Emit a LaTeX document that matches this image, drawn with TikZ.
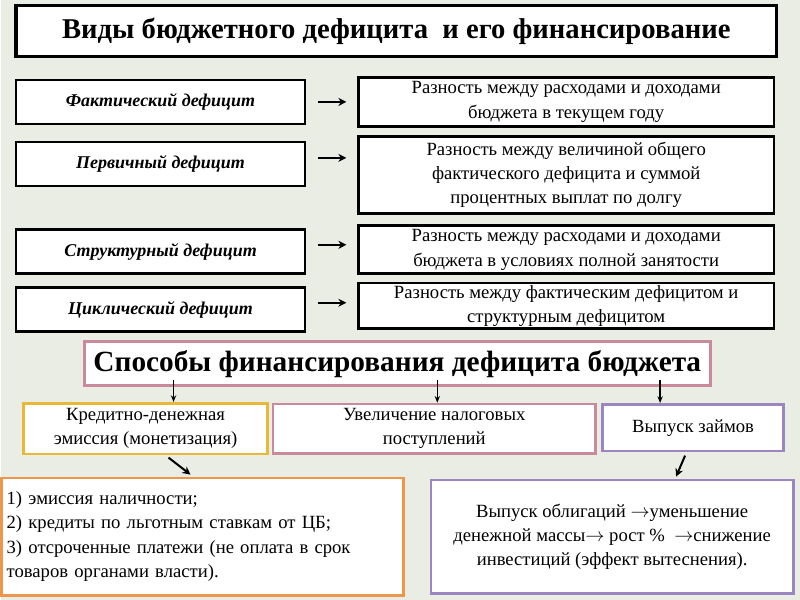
\documentclass[tikz,border=0pt]{standalone}
\usepackage{fontspec}
\setmainfont{Liberation Serif}
\usetikzlibrary{arrows.meta,positioning}
\definecolor{bgcol}{HTML}{E9EDE4}
\definecolor{pinkline}{HTML}{C98A9C}
\definecolor{goldline}{HTML}{E8B838}
\definecolor{purpline}{HTML}{9B86C0}
\definecolor{orangeline}{HTML}{F0964A}
\newcommand{\sz}[1]{\fontsize{#1}{1.3\dimexpr#1pt\relax}\selectfont}
\begin{document}
\begin{tikzpicture}[x=0.75pt,y=-0.75pt,
    every node/.style={rectangle,fill=white,inner sep=1pt,align=center},
    kind/.style={draw=black,line width=2pt,minimum width=217pt,minimum height=33pt,font=\sz{13.5}\bfseries\itshape},
    about/.style={draw=black,line width=2pt,minimum width=312pt,font=\sz{14}},
    way/.style={line width=2pt,font=\sz{14}},
    pointer/.style={-{Stealth[length=6pt,width=6pt]},line width=1.5pt},
    down/.style={-{Stealth[length=5pt,width=4pt]},line width=1pt}
  ]
  \fill[bgcol] (0,0) rectangle (800,600);
  \node [draw=black,line width=2.5pt,minimum width=571pt,minimum height=38pt,font=\sz{21.5}\bfseries] (title) at (396,31) {Виды бюджетного дефицита\ \ и его финансирование};
  % виды дефицита
  \node [kind] (fact) at (160,102) {Фактический дефицит};
  \node [kind] (prim) at (160,164) {Первичный дефицит};
  \node [kind] (struct) at (160,252) {Структурный дефицит};
  \node [kind] (cycl) at (160,310) {Циклический дефицит};
  \node [about,minimum height=37pt] (factd) at (566,102) {Разность между расходами и доходами\\бюджета в текущем году};
  \node [about,minimum height=58pt] (primd) at (566,175) {Разность между величиной общего\\фактического дефицита и суммой\\процентных выплат по долгу};
  \node [about,minimum height=36pt] (structd) at (566,250) {Разность между расходами и доходами\\бюджета в условиях полной занятости};
  \node [about,minimum height=34pt] (cycld) at (566,306) {Разность между фактическим дефицитом и\\структурным дефицитом};
  \coordinate (a1) at (318,102); \coordinate (b1) at (346,102);
  \coordinate (a2) at (318,158); \coordinate (b2) at (346,158);
  \coordinate (a3) at (318,245); \coordinate (b3) at (346,245);
  \coordinate (a4) at (318,303); \coordinate (b4) at (346,303);
  \foreach \i in {1,...,4} \draw [pointer] (a\i) -- (b\i);
  % финансирование
  \node [draw=pinkline,way,minimum width=470pt,minimum height=33pt,font=\sz{22}\bfseries] (ways) at (397,364) {Способы финансирования дефицита бюджета};
  \node [draw=goldline,way,minimum width=183pt,minimum height=38pt] (emis) at (145,429) {Кредитно-денежная\\эмиссия (монетизация)};
  \node [draw=pinkline,way,minimum width=242pt,minimum height=37pt] (tax) at (434,429) {Увеличение налоговых\\поступлений};
  \node [draw=purpline,way,minimum width=136pt,minimum height=35pt] (loan) at (693,428) {Выпуск займов};
  \node [draw=orangeline,way,minimum width=302pt,minimum height=88pt,align=left,text width=294pt] (emisd) at (202,537) {1) эмиссия наличности;\\2) кредиты по льготным ставкам от ЦБ;\\3) отсроченные платежи (не оплата в срок\\товаров органами власти).};
  \node [draw=purpline,way,minimum width=272pt,minimum height=85pt] (loand) at (612,537) {Выпуск облигаций $\rightarrow$уменьшение\\денежной массы$\rightarrow$ рост \% \ $\rightarrow$снижение\\инвестиций (эффект вытеснения).};
  \coordinate (w1) at (173,380); \coordinate (w2) at (437,380); \coordinate (w3) at (660,380);
  \draw [down] (w1) -- (emis.north -| w1);
  \draw [down] (w2) -- (tax.north -| w2);
  \draw [down] (w3) -- (loan.north -| w3);
  \coordinate (e1) at (168,458); \coordinate (e2) at (190,475);
  \coordinate (l1) at (685,456); \coordinate (l2) at (676,477);
  \draw [pointer] (e1) -- (e2);
  \draw [pointer] (l1) -- (l2);
\end{tikzpicture}
\end{document}
